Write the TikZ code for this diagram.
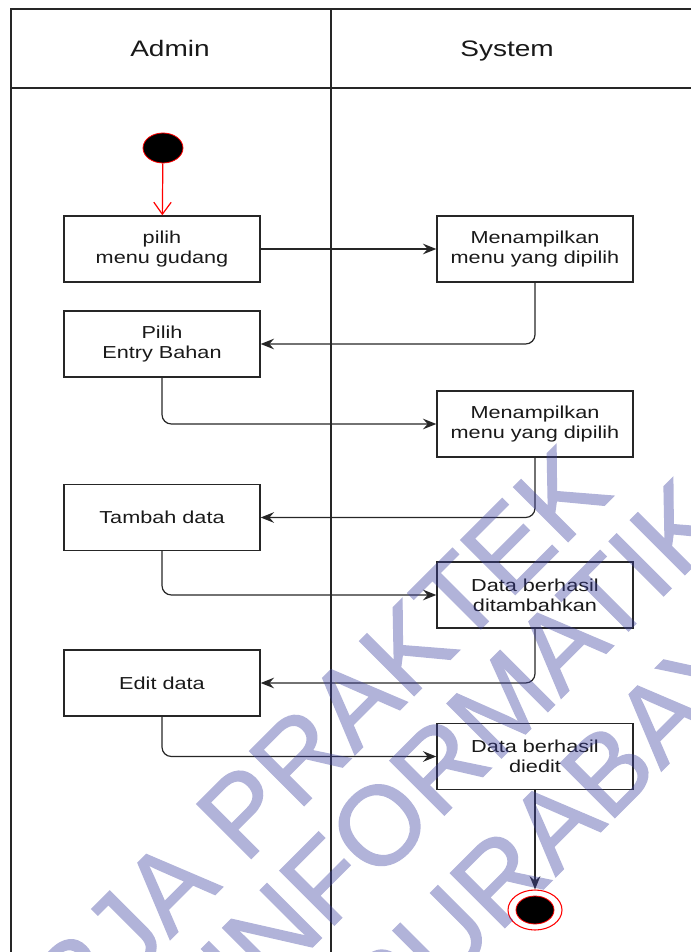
\documentclass[tikz,border=0pt]{standalone}
\usepackage{fontspec}
\setmainfont{Liberation Sans}[FakeStretch=1.25]
\newfontfamily\wmfont{Liberation Sans}[FakeBold=1.2]
\usetikzlibrary{arrows.meta,shapes.geometric}
\definecolor{wmblue}{RGB}{60,64,160}
\begin{document}
\begin{tikzpicture}[x=0.75pt,y=-0.75pt,
  lane/.style={line width=1.1pt, draw=black!85},
  actbox/.style={draw=black!85, line width=1.1pt, minimum width=147pt, minimum height=49.5pt,
    inner sep=0pt, align=center, font=\fontsize{13}{15}\selectfont, text=black!90},
  flow/.style={line width=0.9pt, draw=black!85, rounded corners=7pt,
    -{Stealth[length=10pt,width=8pt,inset=3.5pt]}},
  lanetitle/.style={font=\fontsize{16.8}{20}\selectfont, text=black!90, anchor=base},
  wm/.style={font=\wmfont\fontsize{84}{90}\selectfont, text=wmblue,
    inner sep=0pt, outer sep=0pt, rotate=45, anchor=west}
]
\useasboundingbox (0,0) rectangle (691,952);
\begin{scope}
\clip (0,0) rectangle (691,952);

% swimlane frame
\draw[lane] (700,9) -- (11,9) -- (11,960);
\draw[lane] (11,88) -- (700,88);
\draw[lane] (331,9) -- (331,960);
\node[lanetitle] (admin) at (170,57) {Admin};
\node[lanetitle] (system) at (507,57) {System};

% activities
\node[ellipse, fill=black, draw=red, line width=0.6pt, minimum width=30pt, minimum height=22.5pt, inner sep=0pt] (start) at (163,148) {};
\node[actbox] (a1) at (162,249) {pilih\\menu gudang};
\node[actbox] (s1) at (535,249) {Menampilkan\\menu yang dipilih};
\node[actbox] (a2) at (162,344) {Pilih\\Entry Bahan};
\node[actbox] (s2) at (535,424) {Menampilkan\\menu yang dipilih};
\node[actbox] (a3) at (162,517.5) {Tambah data};
\node[actbox] (s3) at (535,595) {Data berhasil\\ditambahkan};
\node[actbox] (a4) at (162,683) {Edit data};
\node[actbox] (s4) at (535,756.5) {Data berhasil\\diedit};
\node[ellipse, draw=red, line width=0.8pt, minimum width=40.5pt, minimum height=30pt, inner sep=0pt] (end) at (535,910) {};
\node[ellipse, fill=black, draw=red, line width=0.6pt, minimum width=28.5pt, minimum height=21pt, inner sep=0pt] (endcore) at (end.center) {};

% control flow
\draw[red, line width=0.9pt, -{Straight Barb[length=9pt,width=13pt]}] (start) -- (a1);
\draw[flow] (a1) -- (s1);
\draw[flow] (s1.south) |- (a2.east);
\draw[flow] (a2.south) |- (s2.west);
\draw[flow] (s2.south) |- (a3.east);
\draw[flow] (a3.south) |- (s3.west);
\draw[flow] (s3.south) |- (a4.east);
\draw[flow] (a4.south) |- (s4.west);
\draw[flow] (s4) -- (end);

% watermark, laid over the diagram as one translucent layer
\begin{scope}[transparency group, opacity=0.4]
\node[wm] (wm1) at (218,838) {\llap{KERJA }PRAKTEK};
\node[wm] (wm2) at (349,856) {\llap{INF}ORMATIKA};
\node[wm] (wm3) at (414,964) {\llap{S}URABAYA};
\end{scope}
\end{scope}
\end{tikzpicture}
\end{document}
